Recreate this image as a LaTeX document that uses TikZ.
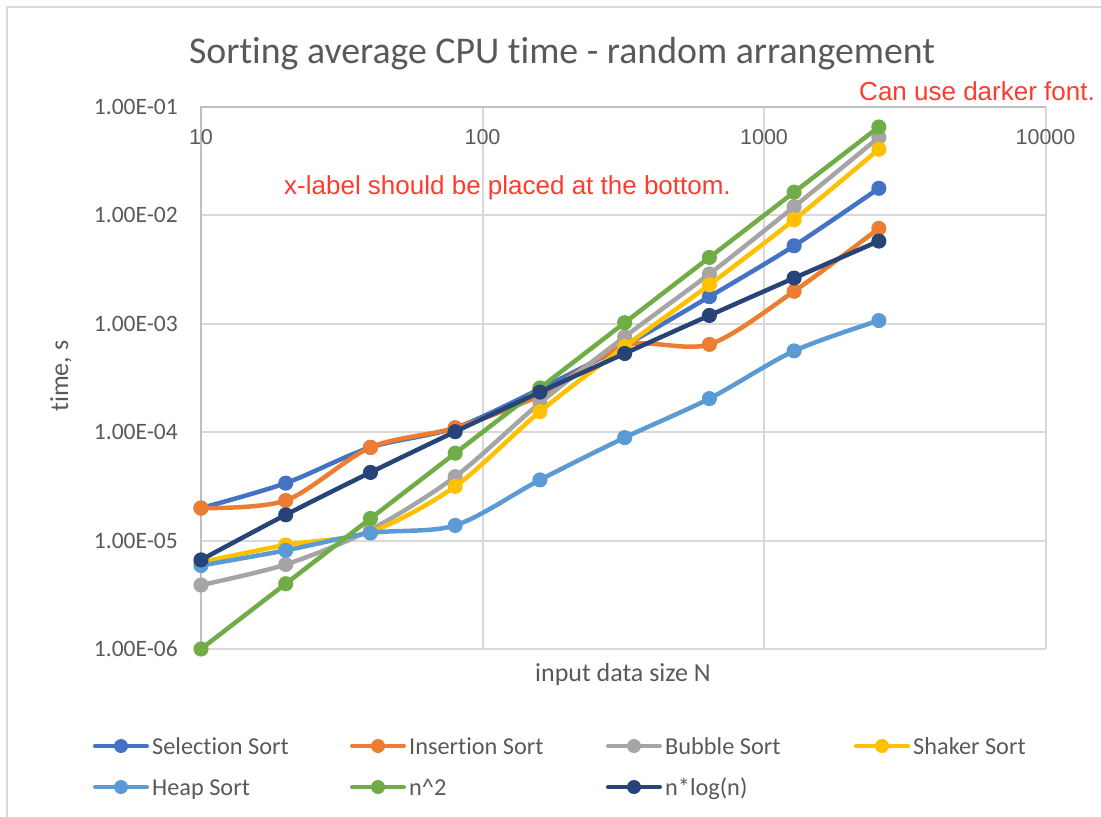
\documentclass[tikz,border=0pt]{standalone}
\usepackage{fontspec}
\setmainfont{Carlito}[Ligatures=CommonOff]
\newfontfamily\arialfont{Liberation Sans}
\usetikzlibrary{positioning}

\definecolor{selcol}{HTML}{4472C4}
\definecolor{inscol}{HTML}{ED7D31}
\definecolor{bubcol}{HTML}{A5A5A5}
\definecolor{shkcol}{HTML}{FFC000}
\definecolor{heapcol}{HTML}{5B9BD5}
\definecolor{sqcol}{HTML}{70AD47}
\definecolor{nlogcol}{HTML}{264478}
\definecolor{labelgray}{HTML}{595959}
\definecolor{gridgray}{HTML}{D9D9D9}
\definecolor{axisgray}{HTML}{BFBFBF}
\definecolor{notered}{HTML}{FF3B30}

\begin{document}
\begin{tikzpicture}[
  x=1pt, y=-1pt,
  gridline/.style={gridgray, line width=2pt},
  axisline/.style={axisgray, line width=2pt},
  series/.style={color=#1, line width=4.5pt, line join=round},
  dots/.style={mark=*, mark size=6.8pt, mark options={line width=1.5pt}},
  ticklabel/.style={labelgray, inner sep=0pt, font=\fontsize{23.5}{28}\selectfont},
  xticklabel/.style={labelgray, inner sep=0pt, font=\arialfont\fontsize{21.5}{26}\selectfont},
  axistitle/.style={labelgray, inner sep=0pt, font=\fontsize{26}{31}\selectfont},
  note/.style={notered, inner sep=0pt, font=\arialfont\fontsize{26}{31}\selectfont},
  legline/.style={color=#1, line width=4pt, line cap=round},
  legtext/.style={labelgray, inner sep=0pt, font=\fontsize{24.3}{29}\selectfont}
]
\useasboundingbox (0,0) rectangle (1101,817);
\draw[gridgray, line width=2pt] (7,817) -- (7,7) -- (1101,7);

\node[labelgray, inner sep=0pt, anchor=base, font=\fontsize{37.8}{45}\selectfont] (title) at (562,63)
  {Sorting average CPU time - random arrangement};

% log-log axes: x = log10(N), y = log10(t)
\begin{scope}[shift={(-80.5,-1.4)}, x=281.5pt, y=108.4pt]
  \foreach \e in {-6,...,-2}
    \draw[gridline] (1,\e) -- (4,\e);
  \foreach \d in {2,3,4}
    \draw[gridline] (\d,-6) -- (\d,-1);
  \draw[axisline] (1,-6) -- (1,-1) -- (4,-1);

  \foreach \e/\lab [count=\i] in {-1/1.00E-01,-2/1.00E-02,-3/1.00E-03,-4/1.00E-04,-5/1.00E-05,-6/1.00E-06}
    \node[ticklabel, anchor=east, xshift=-23pt] (ytick\i) at (1,\e) {\lab};
  \foreach \d/\lab [count=\i] in {1/10,2/100,3/1000,4/10000}
    \node[xticklabel, yshift=-30pt] (xtick\i) at (\d,-1) {\lab};

  \draw[series=selcol, dots] plot[smooth] coordinates {(1,-4.70) (1.301,-4.47) (1.602,-4.14) (1.903,-3.96) (2.204,-3.60) (2.505,-3.20) (2.806,-2.75) (3.107,-2.28) (3.408,-1.75)};
  \draw[series=inscol, dots] plot[smooth] coordinates {(1,-4.70) (1.301,-4.63) (1.602,-4.14) (1.903,-3.96) (2.204,-3.66) (2.505,-3.20) (2.806,-3.19) (3.107,-2.70) (3.408,-2.12)};
  \draw[series=bubcol, dots] plot[smooth] coordinates {(1,-5.41) (1.301,-5.22) (1.602,-4.90) (1.903,-4.41) (2.204,-3.73) (2.505,-3.12) (2.806,-2.54) (3.107,-1.92) (3.408,-1.28)};
  \draw[series=shkcol, dots] plot[smooth] coordinates {(1,-5.20) (1.301,-5.04) (1.602,-4.92) (1.903,-4.50) (2.204,-3.81) (2.505,-3.21) (2.806,-2.64) (3.107,-2.04) (3.408,-1.39)};
  \draw[series=heapcol, dots] plot[smooth] coordinates {(1,-5.23) (1.301,-5.09) (1.602,-4.93) (1.903,-4.86) (2.204,-4.44) (2.505,-4.05) (2.806,-3.69) (3.107,-3.25) (3.408,-2.97)};
  \draw[series=sqcol, dots] plot[smooth] coordinates {(1,-6) (1.301,-5.398) (1.602,-4.796) (1.903,-4.194) (2.204,-3.592) (2.505,-2.990) (2.806,-2.388) (3.107,-1.786) (3.408,-1.184)};
  \draw[series=nlogcol, dots] plot[smooth] coordinates {(1,-5.178) (1.301,-4.762) (1.602,-4.371) (1.903,-3.995) (2.204,-3.630) (2.505,-3.274) (2.806,-2.923) (3.107,-2.578) (3.408,-2.237)};
\end{scope}

\node[axistitle, rotate=90, anchor=base] (ylabel) at (68,376) {time, s};
\node[axistitle, anchor=base] (xlabel) at (623,681) {input data size N};

\node[note, anchor=base west] (note1) at (284,194) {x-label should be placed at the bottom.};
\node[note, anchor=base east] (note2) at (1095,100) {Can use darker font.};

% legend
\foreach \lab/\col/\x/\y [count=\i] in {Selection Sort/selcol/95/746, Insertion Sort/inscol/352/746,
    Bubble Sort/bubcol/608/746, Shaker Sort/shkcol/856/746, Heap Sort/heapcol/95/787,
    n\textasciicircum 2/sqcol/352/787, n*log(n)/nlogcol/608/787} {
  \draw[legline=\col] (\x,\y) -- ++(52,0) coordinate (legend\i);
  \fill[\col] (\x+26,\y) circle (7);
  \node[legtext, anchor=base west] (legtext\i) at ([xshift=5pt, yshift=-8pt]legend\i) {\lab};
}
\end{tikzpicture}
\end{document}
